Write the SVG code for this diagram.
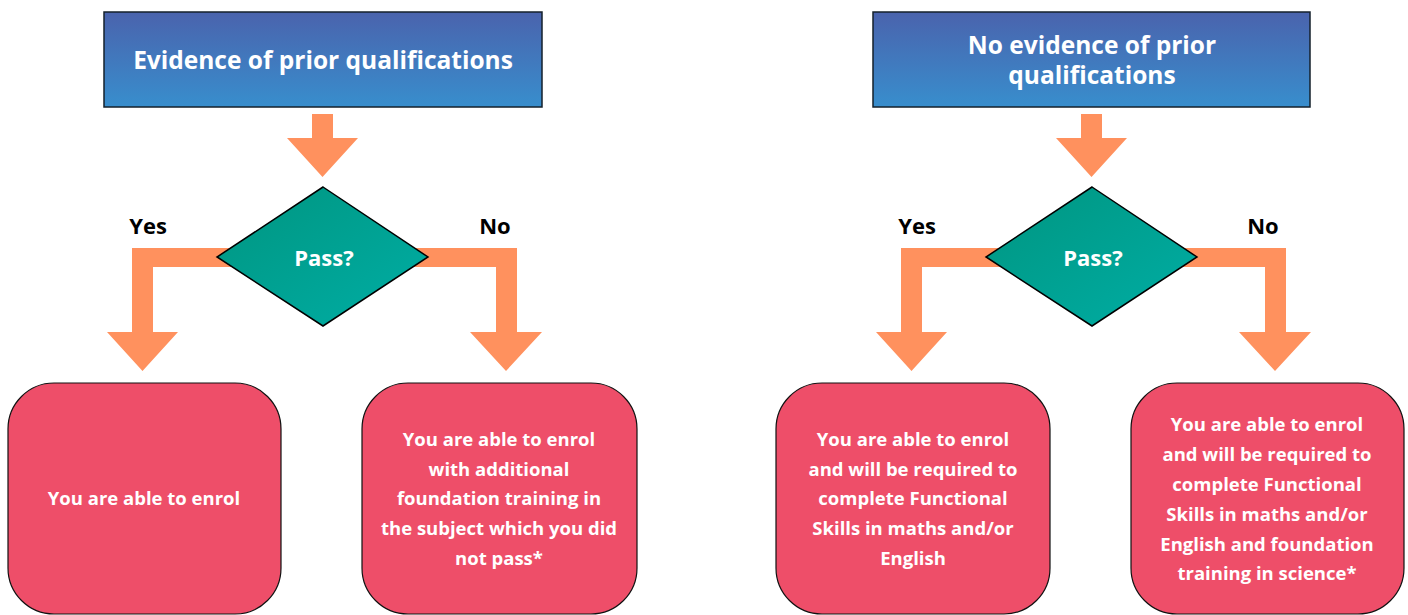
<svg xmlns="http://www.w3.org/2000/svg" width="1408" height="615" viewBox="0 0 1408 615">
<style>
.title{fill:url(#gBlue);stroke:#15202b;stroke-width:1.5}
.ttext{font-family:"Open Sans","Liberation Sans",sans-serif;font-weight:700;font-size:24.5px;fill:#fff;text-anchor:middle}
.arrow{fill:#ff915e}
.dia{fill:url(#gTeal);stroke:#000;stroke-width:1.5}
.ptext{font-family:"Open Sans","Liberation Sans",sans-serif;font-weight:700;font-size:22px;fill:#fff;text-anchor:middle}
.lbl{font-family:"Open Sans","Liberation Sans",sans-serif;font-weight:700;font-size:22px;fill:#000;text-anchor:middle}
.box{fill:#ee4e69;stroke:#111;stroke-width:1.2}
.btext{font-family:"Open Sans","Liberation Sans",sans-serif;font-weight:700;font-size:18.5px;fill:#fff;text-anchor:middle}
</style>
<defs>
<linearGradient id="gBlue" x1="0" y1="0" x2="0" y2="1">
<stop offset="0" stop-color="#4a63ad"/>
<stop offset="1" stop-color="#388ecd"/>
</linearGradient>
<linearGradient id="gTeal" x1="0" y1="0" x2="1" y2="1">
<stop offset="0" stop-color="#009580"/>
<stop offset="1" stop-color="#00aea5"/>
</linearGradient>
</defs>
<rect width="1408" height="615" fill="#fff"/>
<g id="connectors">
<polygon class="arrow" points="312,114 333,114 333,138 358,138 322.5,177 287,138 312,138"/>
<path class="arrow" d="M132 248 H330 V267 H153 V332 H178 L142.5 371 L107 332 H132 Z"/>
<path class="arrow" d="M517 248 H316 V267 H496 V332 H470 L506 371 L542 332 H517 Z"/>
<polygon class="arrow" points="1081,114 1102,114 1102,138 1127,138 1091.5,177 1056,138 1081,138"/>
<path class="arrow" d="M901 248 H1099 V267 H922 V332 H947 L911.5 371 L876 332 H901 Z"/>
<path class="arrow" d="M1286 248 H1085 V267 H1265 V332 H1239 L1275 371 L1311 332 H1286 Z"/>
</g>
<g id="label-yes-left"><text class="lbl" x="148" y="234">Yes</text></g>
<g id="label-no-left"><text class="lbl" x="495" y="234">No</text></g>
<g id="label-yes-right"><text class="lbl" x="917" y="234">Yes</text></g>
<g id="label-no-right"><text class="lbl" x="1263" y="234">No</text></g>
<g id="start-left">
<rect class="title" x="104" y="12" width="438" height="95"/>
<text class="ttext" x="323" y="69">Evidence of prior qualifications</text>
</g>
<g id="start-right">
<rect class="title" x="873" y="12" width="437" height="95"/>
<text class="ttext" x="1092" y="54">No evidence of prior</text>
<text class="ttext" x="1092" y="84">qualifications</text>
</g>
<g id="decision-left">
<polygon class="dia" points="323,187 428,257 323,326 217,257"/>
<text class="ptext" x="324" y="266">Pass?</text>
</g>
<g id="decision-right">
<polygon class="dia" points="1092,187 1197,257 1092,326 986,257"/>
<text class="ptext" x="1093" y="266">Pass?</text>
</g>
<g id="result-1">
<rect class="box" x="8" y="383" width="273" height="231" rx="46"/>
<text class="btext" x="144" y="505">You are able to enrol</text>
</g>
<g id="result-2">
<rect class="box" x="362" y="383" width="275" height="231" rx="46"/>
<text class="btext" x="499" y="446">You are able to enrol</text>
<text class="btext" x="499" y="476">with additional</text>
<text class="btext" x="499" y="505">foundation training in</text>
<text class="btext" x="499" y="535">the subject which you did</text>
<text class="btext" x="499" y="565">not pass*</text>
</g>
<g id="result-3">
<rect class="box" x="776" y="383" width="274" height="231" rx="46"/>
<text class="btext" x="913" y="446">You are able to enrol</text>
<text class="btext" x="913" y="476">and will be required to</text>
<text class="btext" x="913" y="505">complete Functional</text>
<text class="btext" x="913" y="535">Skills in maths and/or</text>
<text class="btext" x="913" y="565">English</text>
</g>
<g id="result-4">
<rect class="box" x="1131" y="383" width="273" height="231" rx="46"/>
<text class="btext" x="1267" y="431">You are able to enrol</text>
<text class="btext" x="1267" y="461">and will be required to</text>
<text class="btext" x="1267" y="491">complete Functional</text>
<text class="btext" x="1267" y="521">Skills in maths and/or</text>
<text class="btext" x="1267" y="551">English and foundation</text>
<text class="btext" x="1267" y="580">training in science*</text>
</g>
</svg>
